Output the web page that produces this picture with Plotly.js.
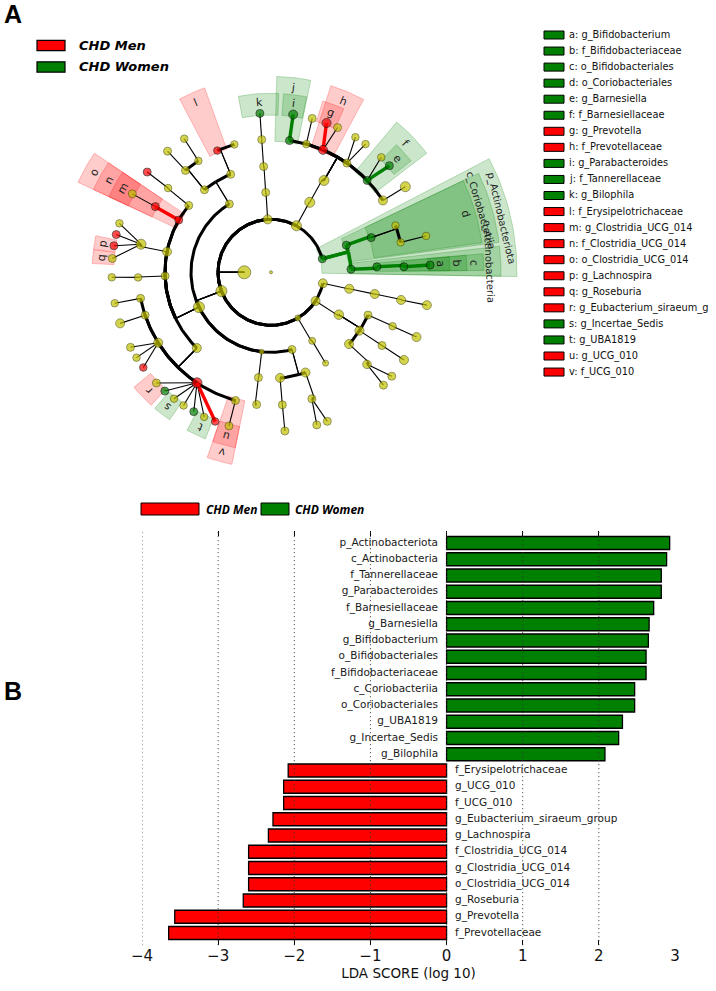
<!DOCTYPE html>
<html><head><meta charset="utf-8">
<script src="https://cdn.plot.ly/plotly-3.0.1.min.js"></script>
<style>html,body{margin:0;padding:0;background:#fff}</style>
</head><body><div id="chart" style="width:716px;height:991px"></div>
<script>
// ===== Panel B: LDA scores (top to bottom) =====
const barTaxa = ['p_Actinobacteriota','c_Actinobacteria','f_Tannerellaceae','g_Parabacteroides','f_Barnesiellaceae','g_Barnesiella','g_Bifidobacterium','o_Bifidobacteriales','f_Bifidobacteriaceae','c_Coriobacteriia','o_Coriobacteriales','g_UBA1819','g_Incertae_Sedis','g_Bilophila','f_Erysipelotrichaceae','g_UCG_010','f_UCG_010','g_Eubacterium_siraeum_group','g_Lachnospira','f_Clostridia_UCG_014','g_Clostridia_UCG_014','o_Clostridia_UCG_014','g_Roseburia','g_Prevotella','f_Prevotellaceae'];
const barLDA = [2.93,2.89,2.82,2.82,2.72,2.66,2.65,2.62,2.62,2.47,2.47,2.31,2.26,2.08,-2.08,-2.14,-2.14,-2.28,-2.34,-2.60,-2.60,-2.60,-2.67,-3.57,-3.65];
const barGroup = ['W','W','W','W','W','W','W','W','W','W','W','W','W','W','M','M','M','M','M','M','M','M','M','M','M'];
const ldaTicks = [-4,-3,-2,-1,0,1,2,3];
const groupKeys = ['M','W'];
const groupNames = {M:'CHD Men', W:'CHD Women'};
const groupColors = {M:'#FF0000', W:'#008000'};
const groupBands = {M:'rgba(255,0,0,0.2)', W:'rgba(0,128,0,0.2)'};
const groupBandEdges = {M:'rgba(255,0,0,0.3)', W:'rgba(0,128,0,0.3)'};

// ===== Panel A: cladogram nodes (level 0 root .. 6 genus; angle in degrees) =====
const nodeParent = [-1,-1,1,1,1,1,1,1,1,5,9,10,11,6,13,13,13,14,15,16,17,18,19,19,7,24,2,26,27,28,3,30,31,31,31,31,31,31,32,33,34,34,35,35,36,36,37,4,4,47,49,49,51,48,53,54,8,8,8,8,56,56,60,60,61,61,64,65,57,57,57,57,57,68,69,70,71,72,72,72,72,72,73,74,75,75,75,75,76,77,78,79,79,79,80,80,80,80,80,80,80,81,58,102,59,59,104,105,106,106,107];
const nodeLevel = [0,1,2,2,2,2,2,2,2,3,4,5,6,3,4,4,4,5,5,5,6,6,6,6,3,4,3,4,5,6,3,4,5,5,5,5,5,5,6,6,6,6,6,6,6,6,6,3,3,4,5,5,6,4,5,6,3,3,3,3,4,4,5,5,5,5,6,6,4,4,4,4,4,5,5,5,5,5,5,5,5,5,6,6,6,6,6,6,6,6,6,6,6,6,6,6,6,6,6,6,6,6,4,5,4,4,5,5,6,6,6];
const nodeAngle = [0,180,93.6,61.3,14.8,348,327.2,300.4,200.8,348.1,348.2,348,348.1,328,336.2,326.6,317.4,336.1,326.6,316.2,336,326.6,319.3,314.9,301,301,93.8,94,94,94,61,60,82,74.6,67,55.2,43.7,32.7,82,75,69.6,65.3,58,53.6,46.2,42,32.5,19.8,2.2,19.1,20.6,13,13.2,3,2.4,2.6,121.4,205.8,263.3,285.2,112.4,128.9,113.8,106,123.1,130,123,130.5,140.9,150.5,168.8,182,225.6,140.7,150.4,167.8,182.2,191.3,198.8,212,236.2,254.5,141,150.5,162.1,166.3,170.4,175,181.8,191.2,198.7,208.1,212.4,216.7,224,228.2,232.5,236.7,241,245.2,249.5,254.7,263.2,263.8,289,274.9,287.9,274.9,286.7,290.7,275];
const nodeSize = [3,13,9,10,8,9,9,6,11,9,9,9,9,9.5,8,9,9,7.5,8,8.5,9,9,8,8,7,6,8,8,8,8,10,10,8,7.5,9,8,8,9,9,8,9,8,7.5,7.5,7.5,8,10,8,8,8,7.5,7.5,7.5,8,8,8,8,11,5,8,8,8,7.5,7.5,7.5,8,7.5,8,8,8,9,8,9,7.5,8,10,7.5,8,8,9,10,8,8,8,7.5,8,8,8,7.5,7.5,9,8,7.5,7.5,8,8,7.5,7.5,8,7.5,7.5,8,8,8,9,9,8,8,8,8,8];
const nodeGroup = ['','','','','W','','','','','','','','','','','','','','','','','','','','','','','','','W','','','W','','M','','W','','W','','M','','','','','W','','W','W','W','','','','W','W','W','','','','','','','M','','','','','','','M','','','','','M','','','','','','M','','M','','','M','M','','','','','','','M','','W','','','W','','M','','','','','','','','','',''];

// ===== Biomarker letters (legend list + highlight bands) =====
const markerLetters = ['a','b','c','d','e','f','g','h','i','j','k','l','m','n','o','p','q','r','s','t','u','v'];
const markerNames = ['g_Bifidobacterium','f_Bifidobacteriaceae','o_Bifidobacteriales','o_Coriobacteriales','g_Barnesiella','f_Barnesiellaceae','g_Prevotella','f_Prevotellaceae','g_Parabacteroides','f_Tannerellaceae','g_Bilophila','f_Erysipelotrichaceae','g_Clostridia_UCG_014','f_Clostridia_UCG_014','o_Clostridia_UCG_014','g_Lachnospira','g_Roseburia','g_Eubacterium_siraeum_g','g_Incertae_Sedis','g_UBA1819','g_UCG_010','f_UCG_010'];
const markerGroup = ['W','W','W','W','W','W','M','M','W','W','W','M','M','M','M','M','M','M','W','W','M','M'];
const markerLevel = [6,5,4,4,6,5,6,5,6,5,6,5,6,5,4,6,6,6,6,6,6,5];
const markerStart = [0.5,0.5,0.5,8,38.5,37.4,66,61.8,78.5,78.3,87.5,109.8,146,146,146,168.2,172.8,220,229.5,242,251,251];
const markerEnd = [5,5,5,25.5,45.5,50.1,73.2,72.2,86,88.3,100.5,117.8,155,155,155,172.6,177.2,228,235.5,248.5,258.5,258.5];

// higher-level biomarkers labelled by name
const cladeNames = ['p_Actinobacteriota','c_Coriobacteriia','c_Actinobacteria'];
const cladeGroup = ['W','W','W'];
const cladeLevel = [2,3,3];
const cladeStart = [-1,7.5,-1];
const cladeEnd = [27.5,25.5,6.5];

// ===== layout helpers =====
const W = 716, H = 991;
const PX = v => v / W, PY = v => 1 - v / H;
const RING = [0, 26.7, 53, 80, 106, 133, 159.3];
const BAND_OUT = [0, 0, 246, 230, 213, 196, 179];
const LABEL_R = [0, 0, 236, 218, 203, 186, 170];
const D = Math.PI / 180;
const cx = (r, a) => r * Math.cos(a * D);
const cy = (r, a) => r * Math.sin(a * D);
const norm = t => { while (t > 180) t -= 360; while (t <= -180) t += 360; return t; };
function arcPts(r, a0, a1) {
  const n = Math.max(2, Math.ceil(Math.abs(a1 - a0) / 1.2) + 1), pts = [];
  for (let k = 0; k < n; k++) pts.push([r, a0 + (a1 - a0) * k / (n - 1)]);
  return pts;
}

const traces = [];
const annotations = [];
const shapes = [];

// ----- highlight bands -----
function addBand(level, a0, a1, g) {
  const rin = RING[level] - 2, rout = BAND_OUT[level];
  const pts = arcPts(rin, a0, a1).concat(arcPts(rout, a1, a0));
  pts.push(pts[0]);
  traces.push({type:'scatter', mode:'lines', xaxis:'x2', yaxis:'y2', fill:'toself',
    fillcolor: groupBands[g], line:{color: groupBandEdges[g], width:0.8},
    x: pts.map(p => cx(p[0], p[1])), y: pts.map(p => cy(p[0], p[1])), hoverinfo:'skip'});
}
cladeNames.forEach((nm, i) => addBand(cladeLevel[i], cladeStart[i], cladeEnd[i], cladeGroup[i]));
markerLetters.forEach((l, i) => addBand(markerLevel[i], markerStart[i], markerEnd[i], markerGroup[i]));

// ----- tree edges -----
const seg = {thin:{x:[],y:[]}, thick:{x:[],y:[]}, M:{x:[],y:[]}, W:{x:[],y:[]}};
function addSeg(key, pts) {
  pts.forEach(p => { seg[key].x.push(cx(p[0], p[1])); seg[key].y.push(cy(p[0], p[1])); });
  seg[key].x.push(null); seg[key].y.push(null);
}
nodeParent.forEach((p, i) => {
  if (p < 0) return;
  const rp = RING[nodeLevel[p]], rc = RING[nodeLevel[i]], ap = nodeAngle[p], ac = nodeAngle[i];
  const g = (nodeGroup[i] && nodeGroup[i] === nodeGroup[p]) ? nodeGroup[i] : null;
  if (nodeLevel[i] === 6) {
    addSeg(g || 'thin', [[rp, ap], [rc, ac]]);
  } else {
    addSeg(g || 'thin', [[rp, ap], [rc, ap]]);
    addSeg(g || 'thick', arcPts(rc, ap, ac));
  }
});
const segStyle = {thin:{color:'#000', width:1.1}, thick:{color:'#000', width:3}, M:{color:groupColors.M, width:3.4}, W:{color:groupColors.W, width:3.4}};
['thin','thick','M','W'].forEach(k => traces.push({type:'scatter', mode:'lines', xaxis:'x2', yaxis:'y2',
  x: seg[k].x, y: seg[k].y, line: segStyle[k], connectgaps:false, hoverinfo:'skip'}));

// ----- nodes -----
traces.push({type:'scatter', mode:'markers', xaxis:'x2', yaxis:'y2',
  x: nodeAngle.map((a, i) => cx(RING[nodeLevel[i]], a)),
  y: nodeAngle.map((a, i) => cy(RING[nodeLevel[i]], a)),
  marker:{size: nodeSize, color: nodeGroup.map(g => g ? groupColors[g] : '#C2C200'),
    line:{color: nodeGroup.map(g => g ? '#000' : '#4a4a00'), width: 0.8}},
  hoverinfo:'skip'});

// ----- labels on the cladogram -----
markerLetters.forEach((l, i) => {
  const a = (markerStart[i] + markerEnd[i]) / 2, r = LABEL_R[markerLevel[i]];
  annotations.push({xref:'x2', yref:'y2', x: cx(r, a), y: cy(r, a), text: l, showarrow:false,
    textangle: norm(90 - a), font:{family:'DejaVu Sans', size:11, color:'#222'}});
});
cladeNames.forEach((nm, i) => {
  const a = (cladeStart[i] + cladeEnd[i]) / 2, r = LABEL_R[cladeLevel[i]];
  annotations.push({xref:'x2', yref:'y2', x: cx(r, a), y: cy(r, a), text: nm, showarrow:false,
    textangle: norm(90 - a), font:{family:'DejaVu Sans', size:10, color:'#222'}});
});

// ----- right legend list -----
markerLetters.forEach((l, i) => {
  const yc = 35 + i * 16.05;
  shapes.push({type:'rect', xref:'paper', yref:'paper', x0:PX(544), x1:PX(564), y0:PY(yc - 4), y1:PY(yc + 4),
    fillcolor: groupColors[markerGroup[i]], line:{color:'#000', width:1}});
  annotations.push({xref:'paper', yref:'paper', x:PX(567), y:PY(yc), xanchor:'left', yanchor:'middle',
    text: l + ': ' + markerNames[i], showarrow:false, font:{family:'DejaVu Sans', size:9.8, color:'#111'}});
});

// ----- group legends (A and B) -----
groupKeys.forEach((g, i) => {
  const yc = 45.5 + i * 21.5;
  shapes.push({type:'rect', xref:'paper', yref:'paper', x0:PX(37), x1:PX(65), y0:PY(yc - 5.2), y1:PY(yc + 5.2),
    fillcolor: groupColors[g], line:{color:'#000', width:1.2}});
  annotations.push({xref:'paper', yref:'paper', x:PX(77), y:PY(yc), xanchor:'left', yanchor:'middle', showarrow:false,
    text: groupNames[g], font:{family:'DejaVu Sans', size:13, weight:'bold', style:'italic', color:'#000'}});
});
const bLegRect = {M:[141,199], W:[261,289]};
const bLegText = {M:204, W:293};
groupKeys.forEach(g => {
  shapes.push({type:'rect', xref:'paper', yref:'paper', x0:PX(bLegRect[g][0]), x1:PX(bLegRect[g][1]), y0:PY(515), y1:PY(503),
    fillcolor: groupColors[g], line:{color:'#000', width:1}});
  annotations.push({xref:'paper', yref:'paper', x:PX(bLegText[g]), y:PY(509), xanchor:'left', yanchor:'middle', showarrow:false,
    text: groupNames[g], font:{family:'Noto Sans', size:12, weight:'bold', style:'italic', color:'#000'}});
});

// panel letters
annotations.push({xref:'paper', yref:'paper', x:PX(2), y:PY(14), xanchor:'left', yanchor:'middle', showarrow:false,
  text:'A', font:{family:'Liberation Sans', size:25, weight:'bold', color:'#000'}});
annotations.push({xref:'paper', yref:'paper', x:PX(2), y:PY(691), xanchor:'left', yanchor:'middle', showarrow:false,
  text:'B', font:{family:'Liberation Sans', size:25, weight:'bold', color:'#000'}});

// ----- Panel B bars -----
groupKeys.forEach(g => {
  const idx = barTaxa.map((t, i) => i).filter(i => barGroup[i] === g);
  traces.push({type:'bar', orientation:'h', xaxis:'x', yaxis:'y',
    y: idx.map(i => barTaxa[i]), x: idx.map(i => barLDA[i]),
    marker:{color: groupColors[g], line:{color:'#000', width:1.3}}, hoverinfo:'x+y'});
});
// taxon labels beside the zero line
[['W','middle left'], ['M','middle right']].forEach(([g, pos]) => {
  const idx = barTaxa.map((t, i) => i).filter(i => barGroup[i] === g);
  traces.push({type:'scatter', mode:'markers+text', xaxis:'x', yaxis:'y', cliponaxis:false,
    y: idx.map(i => barTaxa[i]), x: idx.map(() => 0), text: idx.map(i => barTaxa[i]),
    textposition: pos, marker:{size:12, opacity:0}, hoverinfo:'skip',
    textfont:{family:'DejaVu Sans', size:10.5, color:'#1a1a1a'}});
});
// dotted grid above bars
ldaTicks.filter(v => v < 3).forEach(v => shapes.push({type:'line', xref:'x', yref:'y domain', x0:v, x1:v, y0:0, y1:1,
  layer:'above', line:{color:'#333', width:1, dash:'1px,3px'}}));

const layout = {
  width: W, height: H, margin:{l:0, r:0, t:0, b:0}, autosize:false,
  paper_bgcolor:'#fff', plot_bgcolor:'rgba(0,0,0,0)', showlegend:false,
  barmode:'overlay', bargap:0.2,
  xaxis:{domain:[PX(142), PX(675)], range:[-4, 3], tickvals: ldaTicks, ticks:'inside', ticklen:5, tickcolor:'#000',
    mirror:'ticks', showgrid:false, zeroline:false, showline:false, anchor:'y',
    tickfont:{family:'DejaVu Sans', size:15, color:'#111'},
    title:{text:'LDA SCORE (log 10)', font:{family:'DejaVu Sans', size:13.5, color:'#111'}, standoff:2}},
  yaxis:{domain:[PY(945.2), PY(530.8)], type:'category', categoryorder:'array', categoryarray: barTaxa.slice().reverse(),
    range:[-0.75, 24.75], showticklabels:false, ticks:'', showgrid:false, zeroline:false, showline:false, anchor:'x'},
  xaxis2:{domain:[0, 1], range:[-271, 445], visible:false, anchor:'y2', fixedrange:true},
  yaxis2:{domain:[PY(480), 1], range:[272.3 - 480, 272.3], visible:false, anchor:'x2', fixedrange:true},
  annotations, shapes
};
Plotly.newPlot('chart', traces, layout, {displayModeBar:false, staticPlot:true});
</script></body></html>
